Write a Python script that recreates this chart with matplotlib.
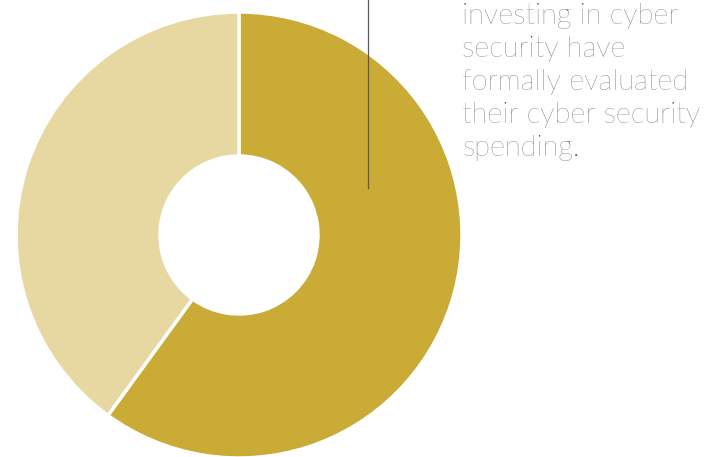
import matplotlib.pyplot as plt

# share of organisations that formally evaluated their spending
shares = [60, 40]
colors = ["#C9AB36", "#E7D8A2"]
caption = [
    "investing in cyber",
    "security have",
    "formally evaluated",
    "their cyber security",
    "spending.",
]

W, H = 713, 457
fig = plt.figure(figsize=(W / 100, H / 100), dpi=100)
ax = fig.add_axes([0, 0, 1, 1])

ax.pie(
    shares,
    colors=colors,
    startangle=90,
    counterclock=False,
    center=(239, H - 235),
    radius=223,
    wedgeprops=dict(width=144, edgecolor="white", linewidth=2.5),
)

# leader line dropping from the caption above
ax.plot([368, 368], [H, H - 188], color="#5a5a5a", lw=0.9)

for i, line in enumerate(caption):
    ax.text(462, H - 16 - 33 * i, line, fontsize=21, family="Lato",
            fontweight="light", color="#474747", va="center", ha="left")

ax.set_xlim(0, W)
ax.set_ylim(0, H)
ax.set_aspect("auto")
ax.axis("off")

fig.savefig("out.png", dpi=100)
